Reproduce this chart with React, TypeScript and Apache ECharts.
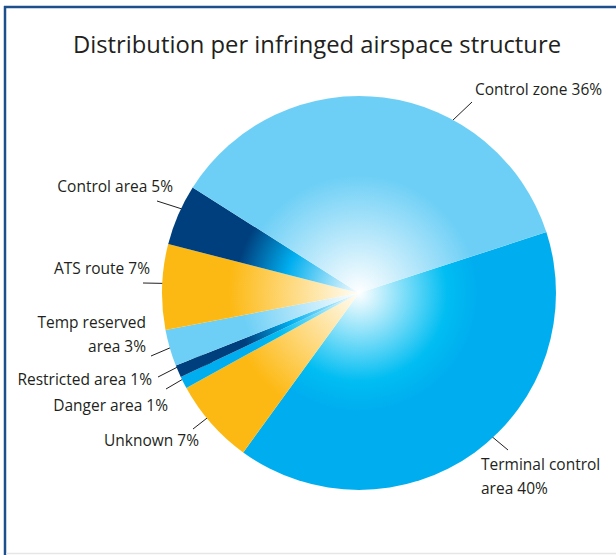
import React, { useEffect, useRef } from "react";
import * as echarts from "echarts";

const title = "Distribution per infringed airspace structure";
const categories = [
  "Terminal control\narea",
  "Unknown",
  "Danger area",
  "Restricted area",
  "Temp reserved\narea",
  "ATS route",
  "Control area",
  "Control zone",
];
const shares = [40, 7, 1, 1, 3, 7, 5, 36];
const sliceColors = [
  "cyan",
  "yellow",
  "cyan",
  "navy",
  "light",
  "yellow",
  "navy",
  "light",
];

// gradient palettes (centre -> rim)
const gradients: Record<string, { offset: number; color: string }[]> = {
  cyan: [
    { offset: 0, color: "#ffffff" },
    { offset: 0.45, color: "#00bdf2" },
    { offset: 0.6, color: "#00aeef" },
    { offset: 1, color: "#00aeef" },
  ],
  navy: [
    { offset: 0, color: "#ffffff" },
    { offset: 0.38, color: "#00aeef" },
    { offset: 0.63, color: "#003f7d" },
    { offset: 1, color: "#003f7d" },
  ],
  light: [
    { offset: 0, color: "#ffffff" },
    { offset: 0.6, color: "#6dcff6" },
    { offset: 1, color: "#6dcff6" },
  ],
  yellow: [
    { offset: 0, color: "#fffdf6" },
    { offset: 0.66, color: "#fdb913" },
    { offset: 1, color: "#fdb913" },
  ],
};

// label placement (annotation layout, pixels)
const labelLayouts = [
  { x: 481, y: 476, align: "left", line: [[466, 415], [508, 450]] },
  { x: 199, y: 440, align: "right", line: [[234, 397], [193, 429]] },
  { x: 168, y: 405, align: "right", line: [[212, 362], [166, 389]] },
  { x: 152, y: 379, align: "right", line: [[205, 353], [158, 377]] },
  { x: 146, y: 334, align: "right", line: [[200, 335], [151, 356]] },
  { x: 150, y: 268, align: "right", line: [[197, 284], [143, 283]] },
  { x: 173, y: 186, align: "right", line: [[207, 217], [157, 201]] },
  { x: 475, y: 89, align: "left", line: [[433, 139], [472, 102]] },
];

const CX = 359;
const CY = 293;
const R = 197;

export default function App() {
  const ref = useRef<HTMLDivElement>(null);
  useEffect(() => {
    const chart = echarts.init(ref.current!, null, { renderer: "svg" });
    const data = categories.map((name, i) => ({
      name,
      value: shares[i],
      itemStyle: {
        color: {
          type: "radial",
          x: CX,
          y: CY,
          r: R,
          global: true,
          colorStops: gradients[sliceColors[i]],
        },
      },
    }));
    chart.setOption({
      animation: false,
      backgroundColor: "#ffffff",
      title: {
        text: title,
        left: 312,
        textAlign: "center",
        top: 27,
        textStyle: {
          fontFamily: "Open Sans",
          fontSize: 23.8,
          fontWeight: "normal",
          color: "#231f20",
        },
      },
      graphic: [
        { type: "line", shape: { x1: 4, y1: 7, x2: 616, y2: 7 }, style: { stroke: "#1d4f8c", lineWidth: 2.5 } },
        { type: "line", shape: { x1: 5, y1: 6, x2: 5, y2: 555 }, style: { stroke: "#1d4f8c", lineWidth: 2.5 } },
        { type: "line", shape: { x1: 6, y1: 553.5, x2: 616, y2: 553.5 }, style: { stroke: "#e6e6e6", lineWidth: 1.5 } },
      ],
      series: [
        {
          type: "pie",
          center: [CX, CY],
          radius: R,
          startAngle: 18,
          clockwise: true,
          data,
          itemStyle: { borderWidth: 0 },
          label: {
            show: true,
            position: "outside",
            formatter: "{b} {c}%",
            fontFamily: "Open Sans",
            fontSize: 15.5,
            color: "#231f20",
            lineHeight: 24,
            overflow: "none",
          },
          labelLine: {
            show: true,
            lineStyle: { color: "#231f20", width: 1 },
          },
          labelLayout: (params: any) => {
            const l = labelLayouts[params.dataIndex];
            return {
              x: l.x,
              y: l.y,
              align: l.align,
              verticalAlign: "middle",
              labelLinePoints: [l.line[0], l.line[1], l.line[1]],
            };
          },
          emphasis: { disabled: true },
        },
      ],
    });
    return () => chart.dispose();
  }, []);
  return (
    <div
      ref={ref}
      style={{ position: "fixed", left: 0, top: 0, width: 616, height: 555 }}
    />
  );
}
